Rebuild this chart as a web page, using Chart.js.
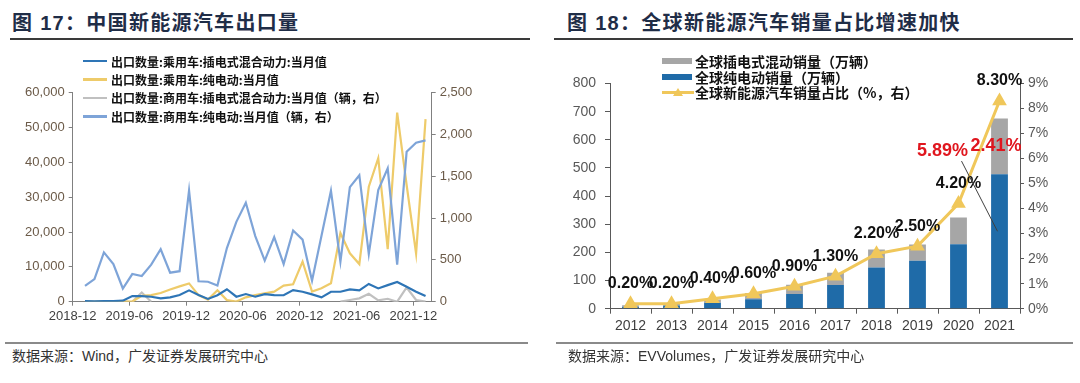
<!DOCTYPE html>
<html><head><meta charset="utf-8">
<script src="https://cdn.jsdelivr.net/npm/chart.js@4.4.1/dist/chart.umd.min.js"></script>
<style>
body{margin:0;background:#fff;}
#page{position:relative;width:1080px;height:383px;overflow:hidden;background:#fff;font-family:"Liberation Sans","Noto Sans CJK SC",sans-serif;}
.title{position:absolute;top:12px;font-size:20px;font-weight:700;color:#1f2d47;letter-spacing:1.3px;white-space:nowrap;line-height:22px}
.rule{position:absolute;height:1.5px;background:#3a3a3a}
.rule2{position:absolute;height:1.5px;background:#8a8a8a}
.src{position:absolute;top:347px;font-size:14px;color:#333;white-space:nowrap;line-height:18px}
.cv{position:absolute;top:0}
.leg{position:absolute;font-family:"Noto Sans CJK SC",sans-serif;font-weight:700;color:#111;white-space:nowrap}
.leg .row{display:flex;align-items:center}
.tri{position:absolute;left:11px;top:-3px;width:0;height:0;border-left:5px solid transparent;border-right:5px solid transparent;border-bottom:8.5px solid #F0C75A}
</style></head>
<body><div id="page">
<div class="title" style="left:12px">图 17：中国新能源汽车出口量</div>
<div class="title" style="left:567px">图 18：全球新能源汽车销量占比增速加快</div>
<div class="rule" style="left:10px;width:520px;top:38px"></div>
<div class="rule" style="left:554px;width:519px;top:38px"></div>

<div class="cv" style="left:0;width:540px;height:330px"><canvas id="c1"></canvas></div>
<div class="cv" style="left:540px;width:540px;height:345px"><canvas id="c2"></canvas></div>

<div class="leg" id="leg1" style="left:83px;top:52px;font-size:12px"></div>
<div class="leg" id="leg2" style="left:662px;top:53.5px;font-size:14px"></div>

<div class="rule2" style="left:5px;width:523px;top:342px"></div>
<div class="rule2" style="left:556px;width:517px;top:342px"></div>
<div class="src" style="left:12px">数据来源：Wind，广发证券发展研究中心</div>
<div class="src" style="left:568px">数据来源：EVVolumes，广发证券发展研究中心</div>
</div>
<script>
// ---------- Figure 17 data ----------
const months = ['2019-01','2019-02','2019-03','2019-04','2019-05','2019-06','2019-07','2019-08','2019-09','2019-10','2019-11','2019-12',
 '2020-01','2020-02','2020-03','2020-04','2020-05','2020-06','2020-07','2020-08','2020-09','2020-10','2020-11','2020-12',
 '2021-01','2021-02','2021-03','2021-04','2021-05','2021-06','2021-07','2021-08','2021-09','2021-10','2021-11','2021-12','2022-01'];
const xTickLabels = ['2018-12','2019-06','2019-12','2020-06','2020-12','2021-06','2021-12'];
const passengerPHEV = [190,100,190,190,290,1620,1620,1430,950,1240,1900,3250,1900,800,1850,3580,1430,2200,1430,2150,1900,1850,3340,2860,2100,1240,2860,2860,3520,3240,5100,3810,4760,5650,4290,2860,1620];
const passengerBEV = [60,40,80,60,100,50,1700,1900,2500,3500,4400,5250,1900,600,3300,450,50,1250,1900,2400,2870,4600,5000,11500,2900,3850,5280,19700,13900,10800,33000,41200,15100,54300,33500,13800,52400];
const commercialPHEV = [null,null,null,null,null,0,110,0,null,null,null,null,null,null,null,null,null,null,null,null,null,null,null,null,null,null,null,0,20,40,95,15,35,0,170,20,0];
const commercialBEV = [188,270,590,450,158,331,307,443,627,347,365,1330,244,239,194,642,955,1184,785,492,773,451,851,742,252,790,1328,478,1370,1513,570,1336,1595,443,1794,1902,1930];
const leg1Labels = ['出口数量:乘用车:插电式混合动力:当月值','出口数量:乘用车:纯电动:当月值','出口数量:商用车:插电式混合动力:当月值（辆，右）','出口数量:商用车:纯电动:当月值（辆，右）'];
const leg1Colors = ['#2E75B6','#EECB6A','#C0C0C0','#7EA4D8'];

// ---------- Figure 18 data ----------
const years = ['2012','2013','2014','2015','2016','2017','2018','2019','2020','2021'];
const globalBEV = [7,11,21,34,52,84,146,170,229,478];
const globalPHEV = [5,7,12,22,33,44,64,58,95,198];
const globalShare = [0.2,0.2,0.4,0.6,0.9,1.3,2.2,2.5,4.2,8.3];
const redNotes = ['5.89%','2.41%'];
const leg2Labels = ['全球插电式混动销量（万辆）','全球纯电动销量（万辆）','全球新能源汽车销量占比（%，右）'];

Chart.defaults.font.family = '"Liberation Sans", Arial, sans-serif';
Chart.defaults.animation = false;

// month position relative to the 2018-12 tick (monthly values sit a little after the month start)
const MONTH_OFFSET = 0.3;
function monthPos(s){ const [y,m]=s.split('-').map(Number); return (y-2018)*12 + (m-12) + MONTH_OFFSET; }
function series(vals){ return vals.map((v,i)=>({x:monthPos(months[i]), y:v})); }

// legends (HTML)
const l1 = document.getElementById('leg1');
leg1Labels.forEach((t,i)=>{
  const r=document.createElement('div'); r.className='row'; r.style.height='18.4px';
  r.innerHTML='<span style="display:inline-block;width:24px;height:2.5px;background:'+leg1Colors[i]+';margin-right:4px"></span><span>'+t+'</span>';
  l1.appendChild(r);
});
const l2 = document.getElementById('leg2');
const sw2 = ['<span style="display:inline-block;width:30px;height:6px;background:#A6A6A6;margin-right:3px"></span>',
  '<span style="display:inline-block;width:30px;height:6px;background:#1F6BA8;margin-right:3px"></span>',
  '<span style="position:relative;display:inline-block;width:32px;height:3px;background:#F0C75A;margin-right:1px"><span class="tri"></span></span>'];
leg2Labels.forEach((t,i)=>{
  const r=document.createElement('div'); r.className='row'; r.style.height='15.5px';
  r.innerHTML=sw2[i]+'<span>'+t+'</span>';
  l2.appendChild(r);
});

const axisCol = '#808080';
new Chart(document.getElementById('c1'), {
  type:'line',
  data:{datasets:[
    {label:leg1Labels[0], data:series(passengerPHEV), yAxisID:'y', borderColor:leg1Colors[0], borderWidth:2.2, pointRadius:0, order:1},
    {label:leg1Labels[1], data:series(passengerBEV), yAxisID:'y', borderColor:leg1Colors[1], borderWidth:2.2, pointRadius:0, order:2},
    {label:leg1Labels[2], data:series(commercialPHEV), yAxisID:'y2', borderColor:leg1Colors[2], borderWidth:2.2, pointRadius:0, order:3},
    {label:leg1Labels[3], data:series(commercialBEV), yAxisID:'y2', borderColor:leg1Colors[3], borderWidth:2.2, pointRadius:0, order:0}
  ]},
  options:{
    responsive:true, maintainAspectRatio:false,
    layout:{padding:{left:0,right:48.3,top:92.7,bottom:8.3}},
    plugins:{legend:{display:false}, tooltip:{enabled:false}},
    scales:{
      x:{type:'linear', min:0, max:37.95,
        afterBuildTicks:s=>{ s.ticks = xTickLabels.map((_,k)=>({value:k*6})); },
        afterFit:s=>{ s.height=20; },
        ticks:{autoSkip:false, maxRotation:0, padding:3, color:'#404040', font:{size:13},
          callback:(v)=>xTickLabels[Math.round(v/6)]},
        grid:{drawOnChartArea:false, tickLength:4, color:axisCol}, border:{color:axisCol}},
      y:{position:'left', min:0, max:60000,
        afterFit:s=>{ s.width=72.7; },
        ticks:{stepSize:10000, padding:4, color:'#6b5a48', font:{size:13}, callback:v=>v.toLocaleString('en-US')},
        grid:{drawOnChartArea:false, tickLength:4, color:axisCol}, border:{color:axisCol}},
      y2:{position:'right', min:0, max:2500,
        afterFit:s=>{ s.width=60; },
        ticks:{stepSize:500, padding:4, color:'#6b5a48', font:{size:13}, callback:v=>v.toLocaleString('en-US')},
        grid:{drawOnChartArea:false, tickLength:4, color:axisCol}, border:{color:axisCol}}
    }
  }
});

const shareLabels = {
  id:'shareLabels',
  afterDatasetsDraw(chart){
    const {ctx, scales:{x,y,y2}} = chart;
    const meta = chart.getDatasetMeta(2);
    ctx.save();
    ctx.textAlign='center'; ctx.textBaseline='middle';
    ctx.font='bold 16px "Liberation Sans", Arial, sans-serif'; ctx.fillStyle='#111';
    meta.data.forEach((pt,i)=>{ ctx.fillText(globalShare[i].toFixed(2)+'%', pt.x, pt.y-20); });
    ctx.strokeStyle='#404040'; ctx.lineWidth=1;
    ctx.beginPath();
    ctx.moveTo(x.getPixelForValue(8)+3, y2.getPixelForValue(5.9));
    ctx.lineTo(x.getPixelForValue(9)-2, y.getPixelForValue(275));
    ctx.stroke();
    ctx.font='bold 18px "Liberation Sans", Arial, sans-serif'; ctx.fillStyle='#E0161E';
    ctx.fillText(redNotes[0], x.getPixelForValue(8)-16, y2.getPixelForValue(6.3));
    ctx.fillText(redNotes[1], x.getPixelForValue(9)-3.5, y2.getPixelForValue(6.5));
    ctx.restore();
  }
};

const axisCol2 = '#595959';
new Chart(document.getElementById('c2'), {
  data:{labels:years, datasets:[
    {type:'bar', label:leg2Labels[1], data:globalBEV, backgroundColor:'#1F6BA8', stack:'s', order:1, barPercentage:0.41, categoryPercentage:1},
    {type:'bar', label:leg2Labels[0], data:globalPHEV, backgroundColor:'#A6A6A6', stack:'s', order:2, barPercentage:0.41, categoryPercentage:1},
    {type:'line', label:leg2Labels[2], data:globalShare, yAxisID:'y2', borderColor:'#F0C75A', borderWidth:3,
      pointStyle:'triangle', pointRadius:5.5, pointBackgroundColor:'#F0C75A', pointBorderColor:'#F0C75A', order:0, clip:false}
  ]},
  options:{
    responsive:true, maintainAspectRatio:false,
    layout:{padding:{left:0,right:10,top:83.5,bottom:11.3}},
    plugins:{legend:{display:false}, tooltip:{enabled:false}},
    scales:{
      x:{stacked:true, afterFit:s=>{ s.height=25; },
        ticks:{padding:4, color:'#404040', font:{size:14}, maxRotation:0},
        grid:{offset:true, drawOnChartArea:false, tickLength:5, color:axisCol2}, border:{color:axisCol2}},
      y:{stacked:true, min:0, max:800, afterFit:s=>{ s.width=70; },
        ticks:{stepSize:100, padding:9, color:'#595959', font:{size:14}},
        grid:{drawOnChartArea:false, tickLength:5, color:axisCol2}, border:{color:axisCol2}},
      y2:{position:'right', min:0, max:9, afterFit:s=>{ s.width=50; },
        ticks:{stepSize:1, padding:4, color:'#595959', font:{size:14}, callback:v=>v+'%'},
        grid:{drawOnChartArea:false, tickLength:4, color:axisCol2}, border:{color:axisCol2}}
    }
  },
  plugins:[shareLabels]
});
</script>
</body></html>
